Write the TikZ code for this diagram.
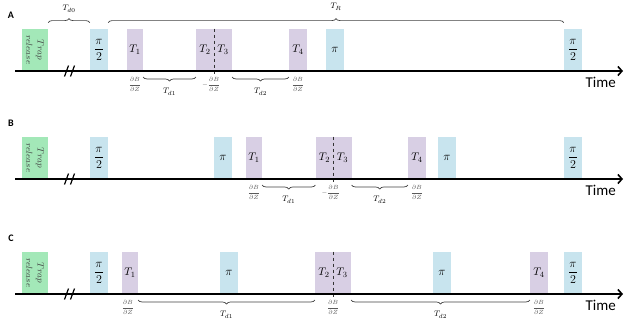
\documentclass[tikz,border=0pt]{standalone}
\usepackage{amsmath}
\usepackage{fontspec}
\setmainfont{Carlito}
\usepackage{tikz}
\usetikzlibrary{arrows.meta,positioning,decorations.pathreplacing}
\definecolor{trapgreen}{HTML}{A3E8B8}
\definecolor{pulseblue}{HTML}{C8E4EE}
\definecolor{pulselilac}{HTML}{D8CFE4}
\definecolor{muted}{HTML}{5A5A5A}
\definecolor{bracegray}{HTML}{404040}
\newcommand{\dBdZ}{$\dfrac{\partial B}{\partial Z}$}
\newcommand{\halfpi}{$\dfrac{\pi}{2}$}

\begin{document}
\begin{tikzpicture}[x=1pt,y=-1pt,font=\fontsize{11}{13}\selectfont,
  pulse/.style={anchor=south,minimum height=42pt,minimum width=18pt,inner sep=0pt},
  trap/.style={pulse,fill=trapgreen,minimum width=26pt},
  half/.style={pulse,fill=pulseblue,font=\fontsize{12.5}{14}\selectfont},
  pibox/.style={pulse,fill=pulseblue,font=\fontsize{12.5}{14}\selectfont},
  gate/.style={pulse,fill=pulselilac},
  grad/.style={anchor=north,text=muted,inner sep=0pt,font=\fontsize{6.5}{7}\selectfont},
  lab/.style={inner sep=0pt,font=\fontsize{8.5}{10}\selectfont},
  delay/.style={draw=bracegray,line width=0.7pt,decorate,decoration={brace,amplitude=4pt}},
  delaybelow/.style={delay,decoration={brace,mirror,amplitude=4pt}},
  axis/.style={line width=1.6pt,-{Straight Barb[length=4pt,width=9pt]}}]
  \useasboundingbox (0,0) rectangle (624,330);
  \foreach \p/\y in {A/71,B/179,C/294} {
    \node[font=\bfseries\fontsize{10}{12}\selectfont] (lab\p) at (11,\y-56) {\p};
    \node[trap] (trap\p) at (35,\y) {};
    \node[rotate=-90,align=center,text=black!75,inner sep=0pt,font=\fontsize{9}{11.5}\selectfont]
      at (trap\p.center) {$Trap$\\$release$};
    \node[half] (half\p) at (99,\y) {\halfpi};
    \node[half] (end\p) at (573,\y) {\halfpi};
    \node[anchor=west,font=\fontsize{15}{17}\selectfont] (time\p) at (582,\y+11) {Time};
  }
  \node[gate,minimum width=16pt] (tA1) at (135,71) {$T_1$};
  \node[gate] (tA2) at (205,71) {$T_2$};
  \node[gate] (tA3) at (223,71) {$T_3$};
  \node[gate] (tA4) at (298,71) {$T_4$};
  \node[pibox] (piA) at (335,71) {$\pi$};
  \node[pibox] (piB1) at (223,179) {$\pi$};
  \node[gate,minimum width=16pt] (tB1) at (254,179) {$T_1$};
  \node[gate] (tB2) at (324.5,179) {$T_2$};
  \node[gate] (tB3) at (342.5,179) {$T_3$};
  \node[gate] (tB4) at (417,179) {$T_4$};
  \node[pibox] (piB2) at (447,179) {$\pi$};
  \node[gate,minimum width=16pt] (tC1) at (130,294) {$T_1$};
  \node[pibox] (piC1) at (229,294) {$\pi$};
  \node[gate] (tC2) at (324,294) {$T_2$};
  \node[gate] (tC3) at (342,294) {$T_3$};
  \node[pibox] (piC2) at (442,294) {$\pi$};
  \node[gate] (tC4) at (539,294) {$T_4$};
  \foreach \p in {A,B,C} {
    \draw[dashed,line width=0.8pt,black!80] (t\p2.north east) -- ([yshift=-3pt]t\p2.south east);
  }
  \foreach \p/\y in {A/71,B/179,C/294} {
    \coordinate (ax0\p) at (15,\y);
    \coordinate (ax1\p) at (623,\y);
    \draw[axis] (ax0\p) -- (ax1\p);
    \draw[line width=1.2pt] (64.5,\y+5.5) -- (68.5,\y-5.5) (70.5,\y+5.5) -- (74.5,\y-5.5);
  }
  \node[grad] (gA1) at ([yshift=-6pt]tA1.south) {\dBdZ};
  \node[grad,xshift=-3pt] (gA2) at ([yshift=-6pt]tA2.south east) {$-\dfrac{\partial B}{\partial Z}$};
  \node[grad] (gA4) at ([yshift=-6pt]tA4.south) {\dBdZ};
  \node[grad] (gB1) at ([yshift=-6pt]tB1.south) {\dBdZ};
  \node[grad,xshift=-3pt] (gB2) at ([yshift=-6pt]tB2.south east) {$-\dfrac{\partial B}{\partial Z}$};
  \node[grad] (gB4) at ([yshift=-6pt]tB4.south) {\dBdZ};
  \node[grad,xshift=-2pt] (gC1) at ([yshift=-6pt]tC1.south) {\dBdZ};
  \node[grad] (gC2) at ([yshift=-6pt]tC2.south east) {\dBdZ};
  \node[grad] (gC4) at ([yshift=-6pt]tC4.south) {\dBdZ};
  \draw[delay] ([yshift=6pt]trapA.north east) -- node[lab,above=10pt]{$T_{d0}$} ([yshift=6pt]halfA.north west);
  \draw[delay] ([yshift=6pt]halfA.north east) -- node[lab,above=12pt]{$T_R$} ([yshift=6pt]endA.north west);
  \draw[delaybelow] ([yshift=-6pt]tA1.south east) -- node[lab,below=11pt]{$T_{d1}$} ([yshift=-6pt]tA2.south west);
  \draw[delaybelow] ([yshift=-6pt]tA3.south east) -- node[lab,below=11pt]{$T_{d2}$} ([yshift=-6pt]tA4.south west);
  \draw[delaybelow] ([yshift=-6pt]tB1.south east) -- node[lab,below=11pt]{$T_{d1}$} ([yshift=-6pt]tB2.south west);
  \draw[delaybelow] ([yshift=-6pt]tB3.south east) -- node[lab,below=11pt]{$T_{d2}$} ([yshift=-6pt]tB4.south west);
  \draw[delaybelow] ([yshift=-6pt]tC1.south east) -- node[lab,below=11pt]{$T_{d1}$} ([yshift=-6pt]tC2.south west);
  \draw[delaybelow] ([yshift=-6pt]tC3.south east) -- node[lab,below=11pt]{$T_{d2}$} ([yshift=-6pt]tC4.south west);
\end{tikzpicture}
\end{document}
